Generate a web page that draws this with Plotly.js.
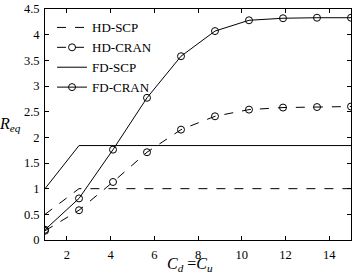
<!DOCTYPE html>
<html><head><meta charset="utf-8">
<script src="https://cdn.plot.ly/plotly-3.0.1.min.js"></script>
<style>body{margin:0;padding:0;background:#fff}#chart{width:360px;height:276px}</style>
</head><body><div id="chart"></div>
<script>
const xGrid = [1, 2.556, 4.111, 5.667, 7.222, 8.778, 10.333, 11.889, 13.444, 15];
const hdScp = [0.5, 1, 1, 1, 1, 1, 1, 1, 1, 1];
const hdCran = [0.18, 0.58, 1.13, 1.71, 2.15, 2.41, 2.54, 2.58, 2.59, 2.60];
const fdScp = [1, 1.84, 1.84, 1.84, 1.84, 1.84, 1.84, 1.84, 1.84, 1.84];
const fdCran = [0.2, 0.81, 1.76, 2.77, 3.58, 4.07, 4.28, 4.32, 4.33, 4.33];
const xTicks = [2, 4, 6, 8, 10, 12, 14];
const yTicks = [0, 0.5, 1, 1.5, 2, 2.5, 3, 3.5, 4, 4.5];

const serif = 'Liberation Serif, Times New Roman, serif';
const mk = {symbol: 'circle-open', size: 7, color: 'black', line: {width: 1, color: 'black'}};
const traces = [
  {x: xGrid, y: hdScp, name: 'HD-SCP', mode: 'lines', line: {color: 'black', width: 1, dash: 'dash'}},
  {x: xGrid, y: hdCran, name: 'HD-CRAN', mode: 'lines+markers', line: {color: 'black', width: 1, dash: 'dash'}, marker: mk},
  {x: xGrid, y: fdScp, name: 'FD-SCP', mode: 'lines', line: {color: 'black', width: 1}},
  {x: xGrid, y: fdCran, name: 'FD-CRAN', mode: 'lines+markers', line: {color: 'black', width: 1}, marker: mk}
];
const axisCommon = {
  showgrid: false, zeroline: false, showline: true, linecolor: 'black', linewidth: 1,
  mirror: 'ticks', ticks: 'inside', ticklen: 4, tickcolor: 'black', tickwidth: 1,
  tickfont: {family: serif, size: 12.5, color: 'black'}
};
const layout = {
  width: 360, height: 276,
  margin: {l: 45, r: 9, t: 9, b: 36},
  paper_bgcolor: 'white', plot_bgcolor: 'white',
  showlegend: true,
  legend: {x: 0.023, y: 0.985, xanchor: 'left', yanchor: 'top', bgcolor: 'rgba(255,255,255,0)',
           font: {family: serif, size: 13, color: 'black'}},
  xaxis: Object.assign({}, axisCommon, {range: [1, 15], tickvals: xTicks, ticktext: xTicks.map(String), ticklabelstandoff: 3}),
  yaxis: Object.assign({}, axisCommon, {range: [0, 4.5], tickvals: yTicks, ticktext: yTicks.map(String), ticklabelstandoff: 2}),
  annotations: [{
    xref: 'paper', yref: 'paper', x: -0.115, y: 0.5, xanchor: 'center', yanchor: 'middle', showarrow: false,
    text: '<i>R</i><sub><i>eq</i></sub>', font: {family: serif, size: 16, color: 'black'}
  }, {
    xref: 'paper', yref: 'paper', x: 0.475, y: -0.105, xanchor: 'center', yanchor: 'middle', showarrow: false,
    text: '<i>C</i><sub><i>d</i></sub> =<i>C</i><sub><i>u</i></sub>', font: {family: serif, size: 16, color: 'black'}
  }]
};
Plotly.newPlot('chart', traces, layout, {displayModeBar: false, staticPlot: true});
</script></body></html>
